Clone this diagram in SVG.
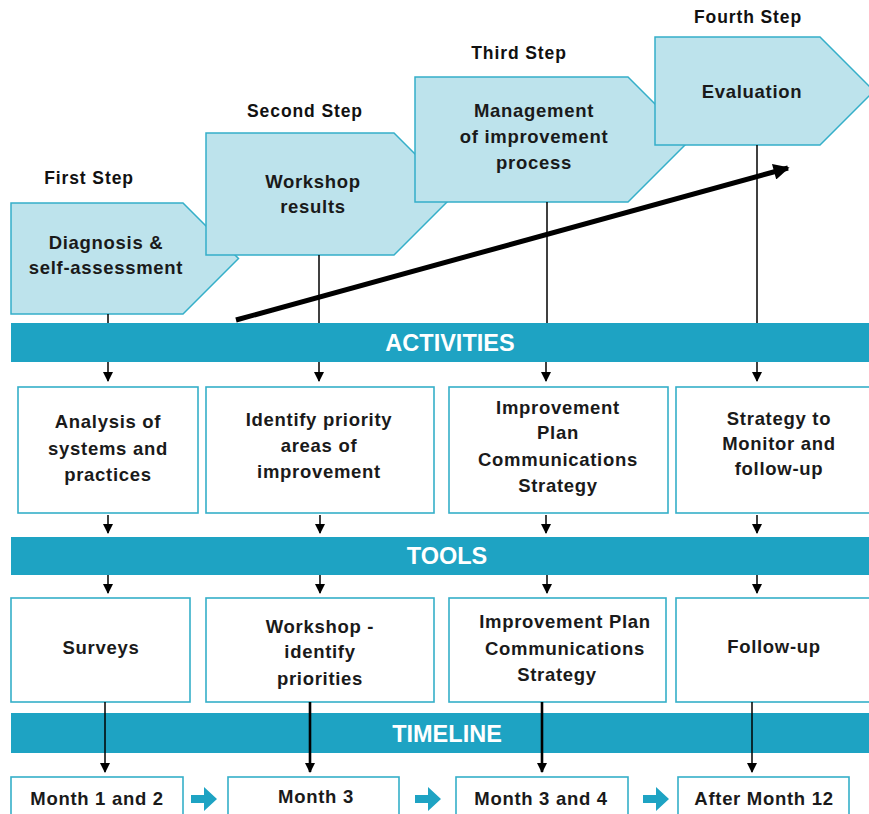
<svg xmlns="http://www.w3.org/2000/svg" width="869" height="814" viewBox="0 0 869 814">
  <defs>
    <marker id="tip" viewBox="0 0 10 10" refX="9" refY="5" markerWidth="10" markerHeight="11" markerUnits="userSpaceOnUse" orient="auto">
      <path d="M0,0 L10,5 L0,10 Z" fill="#000"/>
    </marker>
    <marker id="bigTip" viewBox="0 0 10 10" refX="9" refY="5" markerWidth="3.6" markerHeight="3.2" orient="auto">
      <path d="M0,0 L10,5 L0,10 Z" fill="#000"/>
    </marker>
    <path id="blockArrow" d="M0,8 H13 V0 L26,12 L13,24 V16 H0 Z"/>
  </defs>
  <style>
    .step { fill: #bde3ec; stroke: #35afc9; stroke-width: 1.5; }
    .box { fill: #ffffff; stroke: #35afc9; stroke-width: 1.6; }
    .bar { fill: #1ea3c3; }
    .t { font-family: "Liberation Sans", Arial, sans-serif; font-weight: bold; font-size: 18.5px; fill: #1a1a1a; text-anchor: middle; letter-spacing: 0.7px; }
    .lbl { font-family: "Liberation Sans", Arial, sans-serif; font-weight: bold; font-size: 17.5px; fill: #111; text-anchor: middle; letter-spacing: 0.9px; }
    .bt { font-family: "Liberation Sans", Arial, sans-serif; font-weight: bold; font-size: 23.5px; fill: #ffffff; text-anchor: middle; }
    .ln { stroke: #000; stroke-width: 1.5; fill: none; }
    .ln2 { stroke: #000; stroke-width: 2.6; fill: none; }
    .blk { fill: #1ea3c3; }
  </style>

  <rect width="869" height="814" fill="#ffffff"/>

  <!-- step labels -->
  <text class="lbl" x="89" y="184">First Step</text>
  <text class="lbl" x="305" y="117">Second Step</text>
  <text class="lbl" x="519" y="59">Third Step</text>
  <text class="lbl" x="748" y="23">Fourth Step</text>

  <!-- step chevrons -->
  <g id="step1">
    <path class="step" d="M11,203 H183 L238.5,258.5 L183,314 H11 Z"/>
    <text class="t" x="106" y="249">Diagnosis &amp;</text>
    <text class="t" x="106" y="274">self-assessment</text>
  </g>
  <g id="step2">
    <path class="step" d="M206,133 H394 L455,194 L394,255 H206 Z"/>
    <text class="t" x="313" y="188">Workshop</text>
    <text class="t" x="313" y="213">results</text>
  </g>
  <g id="step3">
    <path class="step" d="M415,77 H628 L690.5,139.5 L628,202 H415 Z"/>
    <text class="t" x="534" y="117">Management</text>
    <text class="t" x="534" y="143">of improvement</text>
    <text class="t" x="534" y="169">process</text>
  </g>
  <g id="step4">
    <path class="step" d="M655,37 H820 L874,91 L820,145 H655 Z"/>
    <text class="t" x="752" y="98">Evaluation</text>
  </g>

  <!-- section bars -->
  <g id="activities-bar">
    <rect class="bar" x="11" y="323" width="858" height="39"/>
    <text class="bt" x="450" y="351">ACTIVITIES</text>
  </g>
  <g id="tools-bar">
    <rect class="bar" x="11" y="537" width="858" height="38"/>
    <text class="bt" x="447" y="564">TOOLS</text>
  </g>
  <g id="timeline-bar">
    <rect class="bar" x="11" y="713" width="858" height="40"/>
    <text class="bt" x="447" y="742">TIMELINE</text>
  </g>

  <!-- activities -->
  <g id="act1">
    <rect class="box" x="18" y="387" width="180" height="126"/>
    <text class="t" x="108" y="428">Analysis of</text>
    <text class="t" x="108" y="455">systems and</text>
    <text class="t" x="108" y="481">practices</text>
  </g>
  <g id="act2">
    <rect class="box" x="206" y="387" width="228" height="126"/>
    <text class="t" x="319" y="426">Identify priority</text>
    <text class="t" x="319" y="452">areas of</text>
    <text class="t" x="319" y="478">improvement</text>
  </g>
  <g id="act3">
    <rect class="box" x="449" y="387" width="219" height="126"/>
    <text class="t" x="558" y="414">Improvement</text>
    <text class="t" x="558" y="439">Plan</text>
    <text class="t" x="558" y="466">Communications</text>
    <text class="t" x="558" y="492">Strategy</text>
  </g>
  <g id="act4">
    <rect class="box" x="676" y="387" width="200" height="126"/>
    <text class="t" x="779" y="425">Strategy to</text>
    <text class="t" x="779" y="450">Monitor and</text>
    <text class="t" x="779" y="475">follow-up</text>
  </g>

  <!-- tools -->
  <g id="tool1">
    <rect class="box" x="11" y="598" width="179" height="104"/>
    <text class="t" x="101" y="654">Surveys</text>
  </g>
  <g id="tool2">
    <rect class="box" x="206" y="598" width="228" height="104"/>
    <text class="t" x="320" y="633">Workshop -</text>
    <text class="t" x="320" y="658">identify</text>
    <text class="t" x="320" y="685">priorities</text>
  </g>
  <g id="tool3">
    <rect class="box" x="449" y="598" width="217" height="104"/>
    <text class="t" x="565" y="628">Improvement Plan</text>
    <text class="t" x="565" y="655">Communications</text>
    <text class="t" x="557" y="681">Strategy</text>
  </g>
  <g id="tool4">
    <rect class="box" x="676" y="598" width="200" height="104"/>
    <text class="t" x="774" y="653">Follow-up</text>
  </g>

  <!-- timeline -->
  <g id="month1">
    <rect class="box" x="11" y="777" width="172" height="45"/>
    <text class="t" x="97" y="805">Month 1 and 2</text>
  </g>
  <g id="month3">
    <rect class="box" x="228" y="777" width="171" height="45"/>
    <text class="t" x="316" y="803">Month 3</text>
  </g>
  <g id="month34">
    <rect class="box" x="456" y="777" width="172" height="45"/>
    <text class="t" x="541" y="805">Month 3 and 4</text>
  </g>
  <g id="month12">
    <rect class="box" x="678" y="777" width="171" height="45"/>
    <text class="t" x="764" y="805">After Month 12</text>
  </g>

  <!-- connectors -->
  <g id="connectors">
    <!-- steps down to activities bar -->
    <line class="ln" x1="108" y1="314" x2="108" y2="323"/>
    <line class="ln" x1="319" y1="255" x2="319" y2="323"/>
    <line class="ln" x1="547" y1="202" x2="547" y2="323"/>
    <line class="ln" x1="757" y1="145" x2="757" y2="323"/>

    <!-- progress arrow -->
    <line x1="236" y1="320" x2="788" y2="168" stroke="#000" stroke-width="5" marker-end="url(#bigTip)"/>

    <!-- activities bar to boxes -->
    <line class="ln" x1="108" y1="362" x2="108" y2="381" marker-end="url(#tip)"/>
    <line class="ln" x1="319" y1="362" x2="319" y2="381" marker-end="url(#tip)"/>
    <line class="ln" x1="546" y1="362" x2="546" y2="381" marker-end="url(#tip)"/>
    <line class="ln" x1="757" y1="362" x2="757" y2="381" marker-end="url(#tip)"/>

    <!-- activities boxes to tools bar -->
    <line class="ln" x1="108" y1="515" x2="108" y2="533" marker-end="url(#tip)"/>
    <line class="ln" x1="320" y1="515" x2="320" y2="533" marker-end="url(#tip)"/>
    <line class="ln" x1="546" y1="515" x2="546" y2="533" marker-end="url(#tip)"/>
    <line class="ln" x1="757" y1="515" x2="757" y2="533" marker-end="url(#tip)"/>

    <!-- tools bar to boxes -->
    <line class="ln" x1="108" y1="575" x2="108" y2="593" marker-end="url(#tip)"/>
    <line class="ln" x1="320" y1="575" x2="320" y2="593" marker-end="url(#tip)"/>
    <line class="ln" x1="547" y1="575" x2="547" y2="593" marker-end="url(#tip)"/>
    <line class="ln" x1="757" y1="575" x2="757" y2="593" marker-end="url(#tip)"/>

    <!-- tools to timeline -->
    <line class="ln" x1="105" y1="702" x2="105" y2="772" marker-end="url(#tip)"/>
    <line class="ln2" x1="310" y1="702" x2="310" y2="772" marker-end="url(#tip)"/>
    <line class="ln2" x1="542" y1="702" x2="542" y2="772" marker-end="url(#tip)"/>
    <line class="ln" x1="752" y1="702" x2="752" y2="772" marker-end="url(#tip)"/>

    <!-- timeline progression -->
    <use href="#blockArrow" class="blk" x="191" y="787"/>
    <use href="#blockArrow" class="blk" x="415" y="787"/>
    <use href="#blockArrow" class="blk" x="643" y="787"/>
  </g>
</svg>
